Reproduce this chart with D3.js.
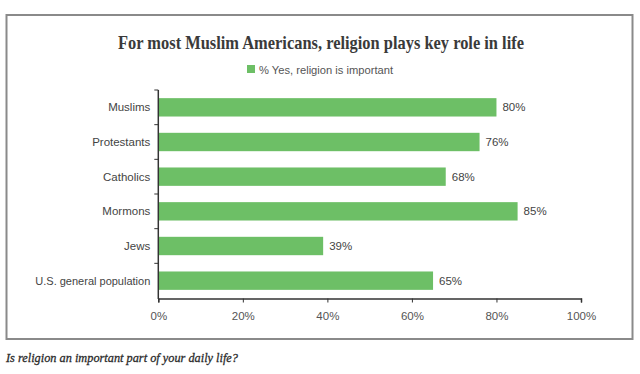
<!DOCTYPE html>
<html>
<head>
<meta charset="utf-8">
<script src="https://cdn.jsdelivr.net/npm/d3@7"></script>
<style>
  body { margin: 0; background: #fff; }
  svg { display: block; }
</style>
</head>
<body>
<div id="chart"></div>
<script>
//////////////////////////// data /////////////////////////////////////////
const categories = ["Muslims", "Protestants", "Catholics", "Mormons", "Jews", "U.S. general population"];
const values = [80, 76, 68, 85, 39, 65];
const xTicks = [0, 20, 40, 60, 80, 100];
const titleText = "For most Muslim Americans, religion plays key role in life";
const legendText = "% Yes, religion is important";
const noteText = "Is religion an important part of your daily life?";

//////////////////////////// set up svg ///////////////////////////////////
const width = 640, height = 374;
const svg = d3.select("#chart").append("svg")
  .attr("width", width).attr("height", height);

const green = "#6dbf66";
const sans = "'Liberation Sans', Arial, sans-serif";
const serif = "'Liberation Serif', 'DejaVu Serif', serif";

// frame
svg.append("rect")
  .attr("x", 6.5).attr("y", 15).attr("width", 626).attr("height", 324)
  .attr("fill", "none").attr("stroke", "#8a8a8a").attr("stroke-width", 2);

// title
svg.append("text")
  .attr("x", 321).attr("y", 49)
  .attr("text-anchor", "middle")
  .style("font-family", serif).style("font-size", "19px").style("font-weight", "bold")
  .attr("fill", "#3a3a3a")
  .attr("textLength", 406).attr("lengthAdjust", "spacingAndGlyphs")
  .text(titleText);

// legend
svg.append("rect").attr("x", 247).attr("y", 65).attr("width", 8).attr("height", 8).attr("fill", green);
svg.append("text")
  .attr("x", 259).attr("y", 73.5)
  .style("font-family", sans).style("font-size", "11.5px").attr("fill", "#555")
  .attr("textLength", 134).attr("lengthAdjust", "spacingAndGlyphs")
  .text(legendText);

//////////////////////////// scales ///////////////////////////////////////
const xScale = d3.scaleLinear().domain([0, 100]).range([158.3, 581]);
const yScale = d3.scaleBand().domain(categories).range([90, 298]).paddingInner(0.47).paddingOuter(0.235);

const bounds = svg.append("g");

//////////////////////////// bars /////////////////////////////////////////
const rows = categories.map((c, i) => ({ cat: c, val: values[i] }));

bounds.selectAll(".bar").data(rows).enter().append("rect")
  .attr("class", "bar")
  .attr("x", xScale(0))
  .attr("y", d => yScale(d.cat))
  .attr("width", d => xScale(d.val) - xScale(0))
  .attr("height", yScale.bandwidth())
  .attr("fill", green);

bounds.selectAll(".val").data(rows).enter().append("text")
  .attr("class", "val")
  .attr("x", d => xScale(d.val) + 6)
  .attr("y", d => yScale(d.cat) + yScale.bandwidth() / 2)
  .attr("dy", "0.35em")
  .style("font-family", sans).style("font-size", "11.5px").attr("fill", "#444")
  .text(d => d.val + "%");

//////////////////////////// axes /////////////////////////////////////////
const xAxis = bounds.append("g")
  .attr("transform", "translate(0,298.5)")
  .call(d3.axisBottom(xScale).tickValues(xTicks).tickSize(4).tickPadding(9).tickFormat(d => d + "%"));
xAxis.select(".domain").attr("stroke", "#333").attr("stroke-width", 1.5);
xAxis.selectAll(".tick line").attr("stroke", "#333");
xAxis.selectAll("text").style("font-family", sans).style("font-size", "11.5px").attr("fill", "#555");

// y axis: ticks sit on band boundaries
const step = yScale.step();
const boundaries = categories.map(c => yScale(c) - (step - yScale.bandwidth()) / 2);
const yAxis = bounds.append("g").attr("transform", `translate(${xScale(0)},0)`);
yAxis.append("line").attr("x1", 0).attr("x2", 0).attr("y1", boundaries[0]).attr("y2", 299)
  .attr("stroke", "#333").attr("stroke-width", 1.5);
yAxis.selectAll(".ytick").data(boundaries).enter().append("line")
  .attr("x1", -4).attr("x2", 0).attr("y1", d => d).attr("y2", d => d)
  .attr("stroke", "#333");
yAxis.selectAll(".ylab").data(categories).enter().append("text")
  .attr("x", -8)
  .attr("y", d => yScale(d) + yScale.bandwidth() / 2)
  .attr("dy", "0.35em")
  .attr("text-anchor", "end")
  .style("font-family", sans).style("font-size", "11.5px").attr("fill", "#444")
  .text(d => d);
// the source face is narrower than Liberation Sans: squeeze the long label
yAxis.selectAll("text").filter(d => d === "U.S. general population")
  .attr("textLength", 115).attr("lengthAdjust", "spacingAndGlyphs");

//////////////////////////// note /////////////////////////////////////////
svg.append("text")
  .attr("x", 6).attr("y", 362)
  .style("font-family", serif).style("font-size", "13.5px").style("font-style", "italic")
  .attr("fill", "#2a2a2a").attr("stroke", "#2a2a2a").attr("stroke-width", 0.3)
  .attr("textLength", 232).attr("lengthAdjust", "spacingAndGlyphs")
  .text(noteText);
</script>
</body>
</html>
